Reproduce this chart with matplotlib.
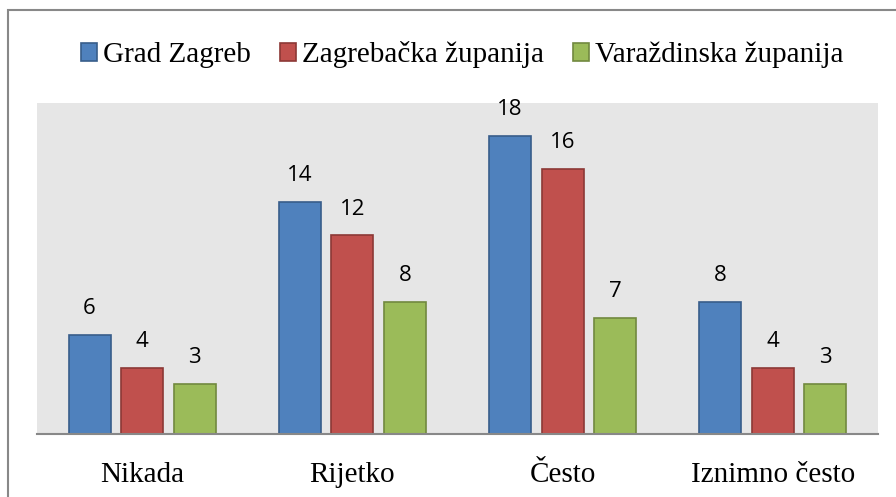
import matplotlib
matplotlib.use("Agg")
import matplotlib.pyplot as plt
import matplotlib.patches as mpatches
import numpy as np

# data
categories = ["Nikada", "Rijetko", "Često", "Iznimno često"]
series_names = ["Grad Zagreb", "Zagrebačka županija", "Varaždinska županija"]
grad_zagreb = [6, 14, 18, 8]
zagrebacka = [4, 12, 16, 4]
varazdinska = [3, 8, 7, 3]

fill_colors = ["#4F81BD", "#C0504D", "#9BBB59"]
edge_colors = ["#385D8A", "#8C3836", "#71893F"]

W, H = 896, 497
fig = plt.figure(figsize=(W / 100, H / 100), dpi=100)
ax = fig.add_axes([37 / W, (H - 434) / H, (878 - 37) / W, (434 - 103) / H])
ax.set_facecolor("#E6E6E6")

x = np.arange(len(categories))
step = 0.25
width = 0.2
for i, vals in enumerate([grad_zagreb, zagrebacka, varazdinska]):
    pos = x + (i - 1) * step
    bars = ax.bar(pos, vals, width, color=fill_colors[i], edgecolor=edge_colors[i],
                  linewidth=1.2, label=series_names[i], zorder=3)
    for b, v in zip(bars, vals):
        ax.annotate(str(v), (b.get_x() + b.get_width() / 2, v), xytext=(0, 19),
                    textcoords="offset points", ha="center", va="center",
                    fontsize=16, family="Open Sans", color="#000000",
                    annotation_clip=False)

ax.set_xlim(-0.5, len(categories) - 0.5)
ax.set_ylim(0, 20)
ax.set_yticks([])
ax.set_xticks(x)
ax.set_xticklabels(categories, fontsize=21, family="Liberation Serif")
ax.tick_params(axis="x", length=0, pad=20)
for s in ["top", "right", "left"]:
    ax.spines[s].set_visible(False)
ax.spines["bottom"].set_color("#888888")
ax.spines["bottom"].set_linewidth(1.5)
ax.spines["bottom"].set_zorder(4)

handles = [mpatches.Patch(facecolor=fill_colors[i], edgecolor=edge_colors[i],
                          linewidth=1.2, label=series_names[i]) for i in range(3)]
fig.legend(handles=handles, loc="center", bbox_to_anchor=(462 / W, 1 - 55 / H),
           ncol=3, frameon=False, prop={"family": "Liberation Serif", "size": 21},
           handlelength=0.55, handleheight=0.55, handletextpad=0.2,
           columnspacing=1.0)

# outer chart border (runs off the right and bottom edges)
border = mpatches.Rectangle((8 / W, -0.1), 1.5, (H - 10) / H + 0.1,
                            transform=fig.transFigure, fill=False,
                            edgecolor="#888888", linewidth=1.5)
fig.patches.append(border)

fig.savefig("out.png", dpi=100)
